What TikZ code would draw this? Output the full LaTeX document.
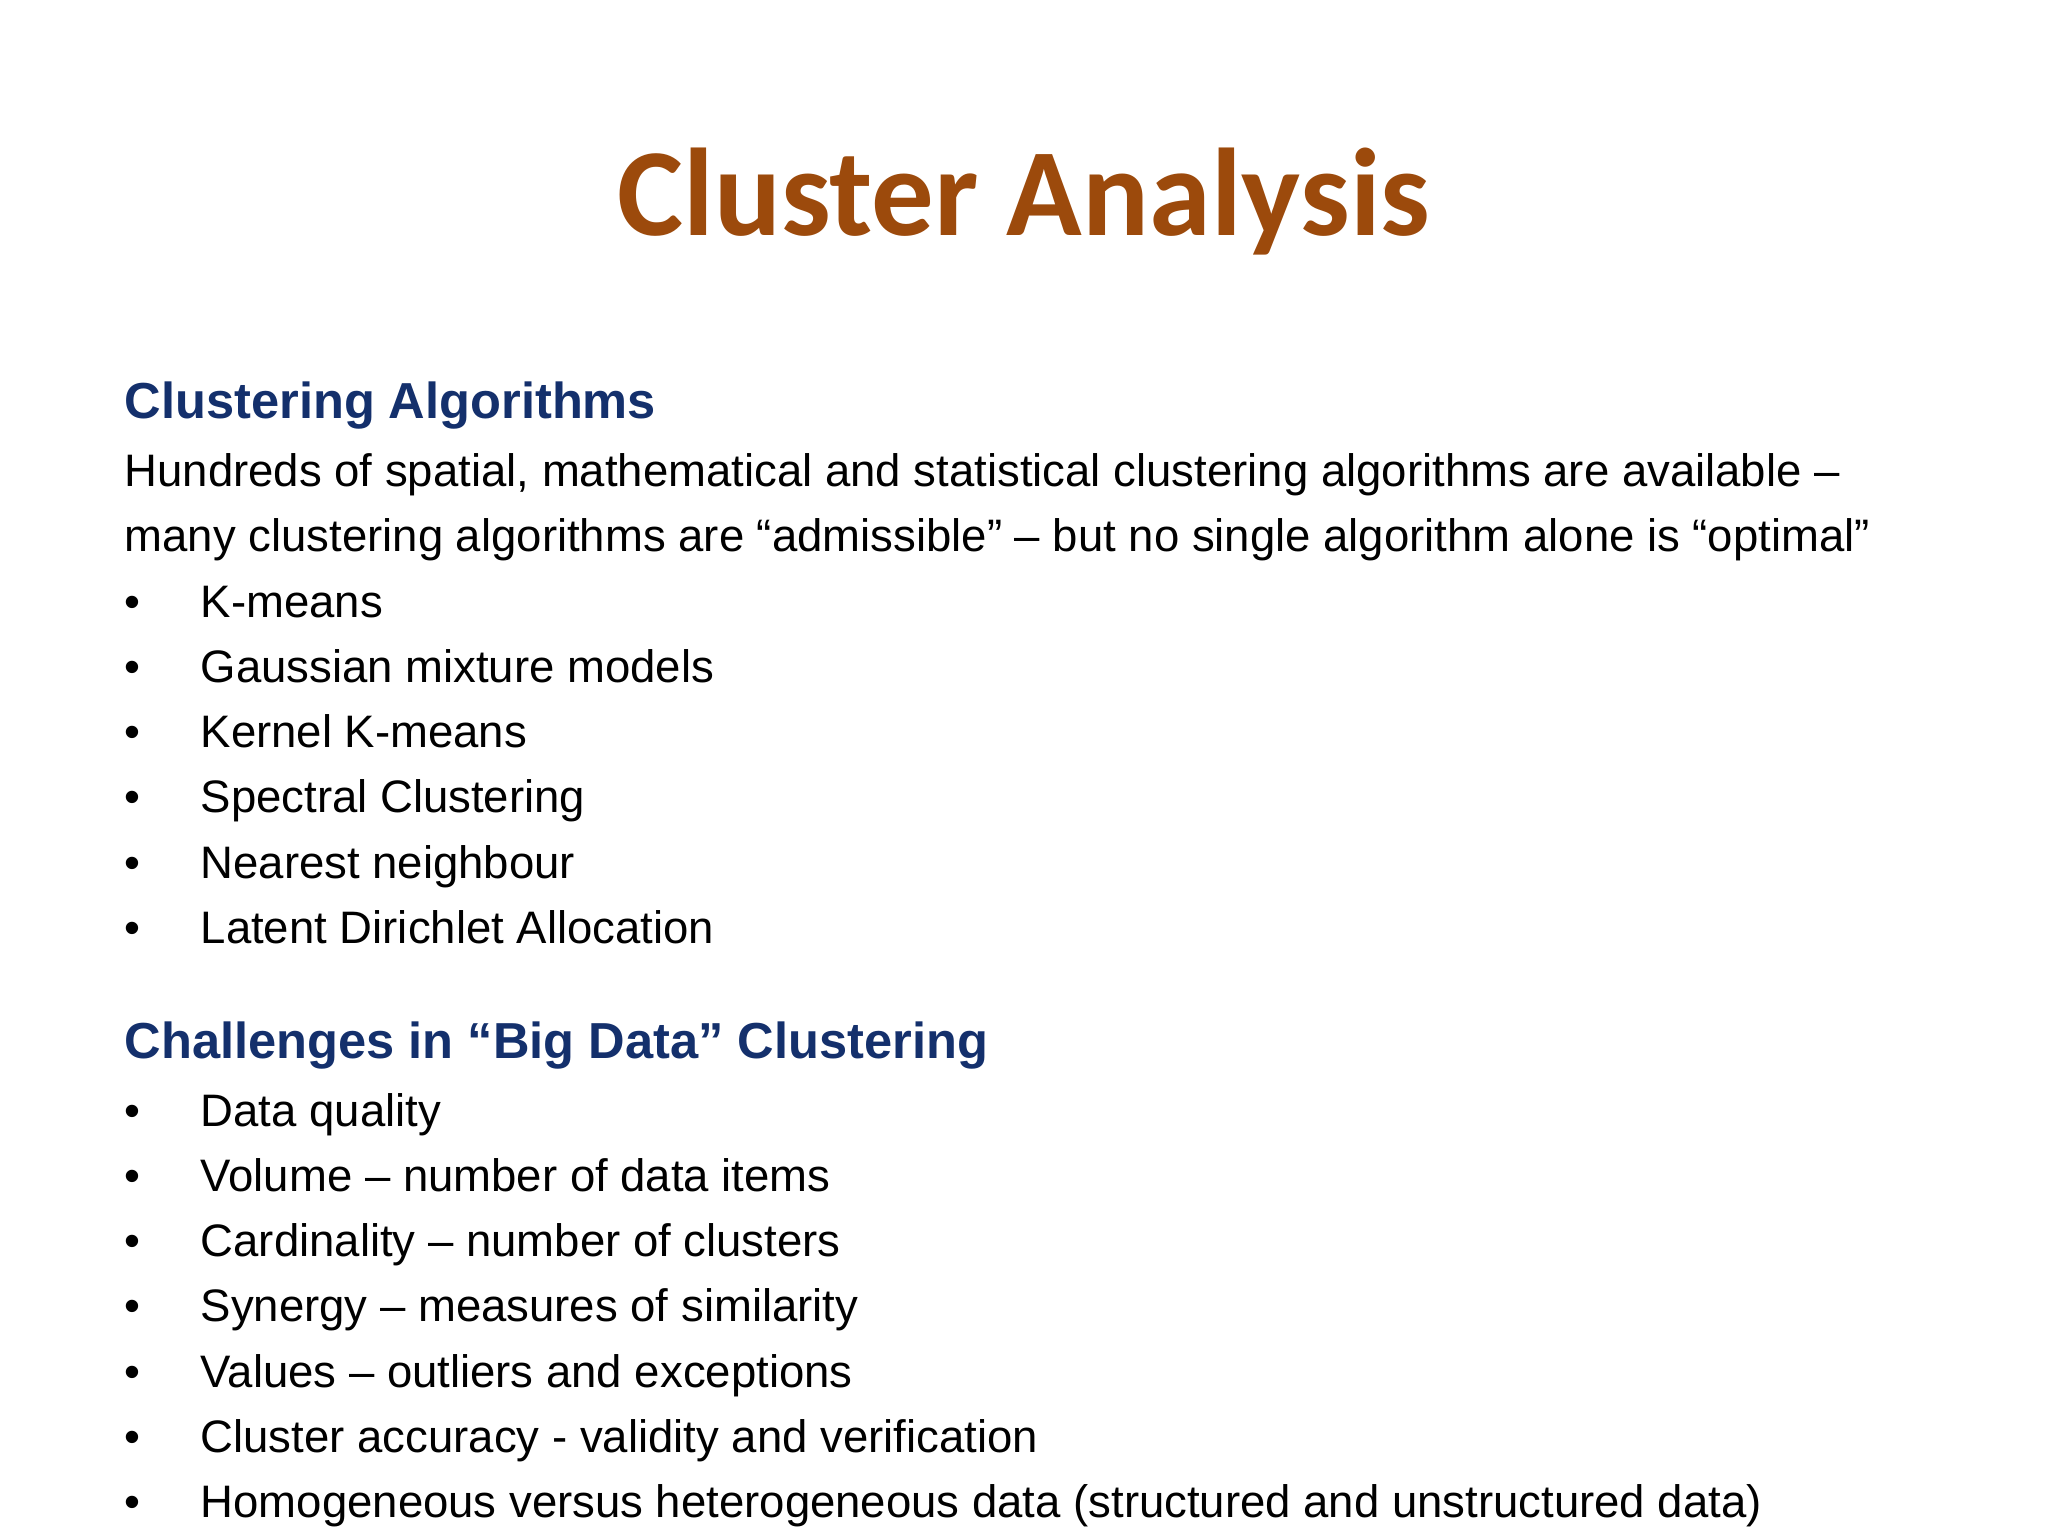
\documentclass[tikz,border=0pt]{standalone}
\usepackage{fontspec}
\setmainfont{Liberation Sans}
\newfontfamily\titlefont{Carlito}
\definecolor{titlec}{HTML}{9C4A0C}
\definecolor{headc}{HTML}{14306C}
\begin{document}
\begin{tikzpicture}[x=0.1mm,y=-0.1mm,
  body/.style={anchor=base west,inner sep=0pt,font=\fontsize{12.95}{15}\selectfont},
  head/.style={anchor=base west,inner sep=0pt,font=\fontsize{14.4}{16}\selectfont\bfseries,text=headc}]
\useasboundingbox (0,0) rectangle (2048,1536);
\node[anchor=base,inner sep=0pt,font=\titlefont\fontsize{35.5}{42}\selectfont\bfseries,text=titlec] (title) at (1024,235) {Cluster Analysis};
\node[head] (h1) at (124,418) {Clustering Algorithms};
\node[body] (p1) at (124,486) {Hundreds of spatial, mathematical and statistical clustering algorithms are available –};
\node[body] (p2) at (124,551) {many clustering algorithms are “admissible” – but no single algorithm alone is “optimal”};
\foreach \t [count=\i] in {K-means,Gaussian mixture models,Kernel K-means,Spectral Clustering,Nearest neighbour,Latent Dirichlet Allocation}{
  \node[body] (ba\i) at (124,{617+65.3*(\i-1)}) {•};
  \node[body] (a\i) at (200,{617+65.3*(\i-1)}) {\t};
}
\node[head] (h2) at (124,1058) {Challenges in “Big Data” Clustering};
\foreach \t [count=\i] in {Data quality,Volume – number of data items,Cardinality – number of clusters,Synergy – measures of similarity,Values – outliers and exceptions,Cluster accuracy - validity and verification,Homogeneous versus heterogeneous data (structured and unstructured data)}{
  \node[body] (bc\i) at (124,{1126+65.3*(\i-1)}) {•};
  \node[body] (c\i) at (200,{1126+65.3*(\i-1)}) {\t};
}
\end{tikzpicture}
\end{document}
